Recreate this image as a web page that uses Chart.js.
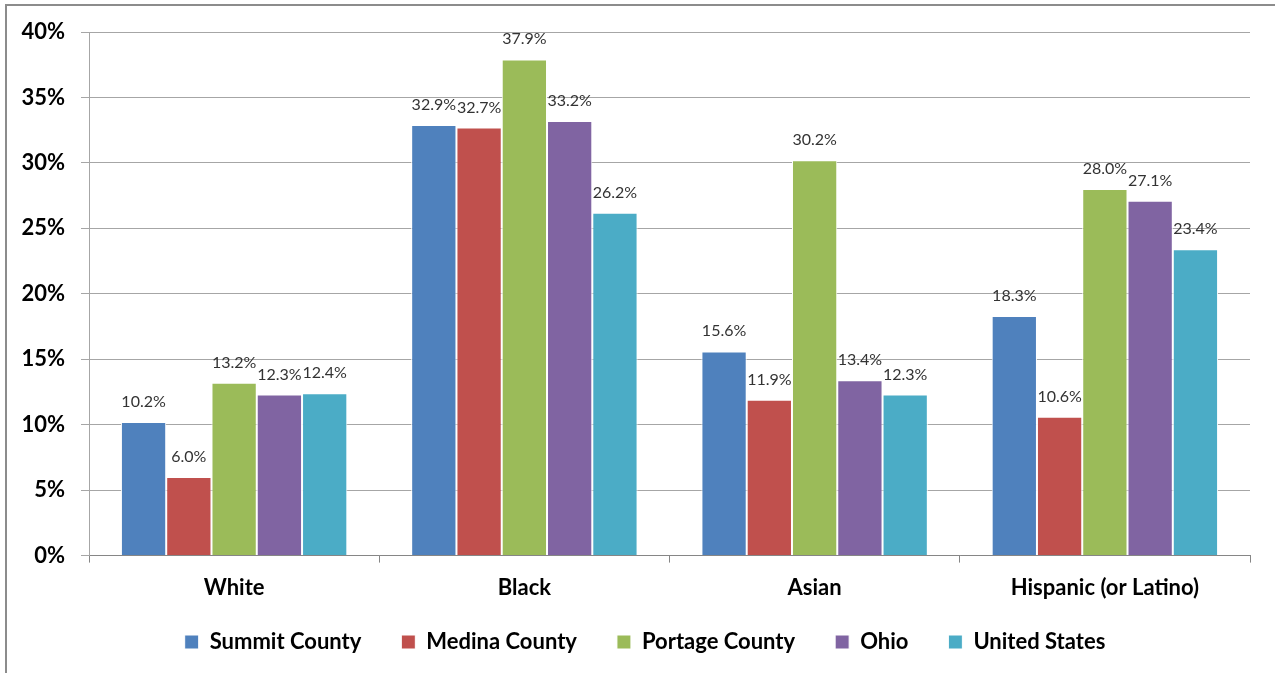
<!DOCTYPE html>
<html>
<head>
<meta charset="utf-8">
<script src="https://cdn.jsdelivr.net/npm/chart.js@4"></script>
<style>
  body { margin: 0; background: #fff; }
  #frame { position: absolute; left: 5px; top: 4px; width: 1300px; height: 700px; border: 2px solid #8c8c8c; }
  #wrap { position: absolute; left: 0; top: 0; width: 1275px; height: 673px; }
</style>
</head>
<body>
<div id="frame"></div>
<div id="wrap"><canvas id="myChart"></canvas></div>
<script>
const categorias = ['White', 'Black', 'Asian', 'Hispanic (or Latino)']
const nombres = ['Summit County', 'Medina County', 'Portage County', 'Ohio', 'United States']
const summit = [10.2, 32.9, 15.6, 18.3]
const medina = [6.0, 32.7, 11.9, 10.6]
const portage = [13.2, 37.9, 30.2, 28.0]
const ohio = [12.3, 33.2, 13.4, 27.1]
const usa = [12.4, 26.2, 12.3, 23.4]
const colores = ['#4F81BD', '#C0504D', '#9BBB59', '#8064A2', '#4BACC6']
const fuente = 'Lato, "Open Sans", sans-serif'

// etiquetas de valor encima de cada barra
const etiquetas = {
    id: 'etiquetas',
    afterDatasetsDraw(chart) {
        const ctx = chart.ctx
        ctx.save()
        ctx.font = '16px ' + fuente
        ctx.fillStyle = '#333333'
        ctx.textAlign = 'center'
        ctx.textBaseline = 'alphabetic'
        chart.data.datasets.forEach((ds, i) => {
            chart.getDatasetMeta(i).data.forEach((bar, j) => {
                ctx.fillText(ds.data[j].toFixed(1) + '%', bar.x, bar.y - 15)
            })
        })
        ctx.restore()
    }
}

// leyenda: alto fijo para el layout, luego ubicada a mano
const ajusteLeyenda = {
    id: 'ajusteLeyenda',
    afterInit(chart) {
        const leyenda = chart.legend
        const fit = leyenda.fit
        leyenda.fit = function () {
            fit.call(this)
            this.height = 60
        }
    },
    afterLayout(chart) {
        const l = chart.legend
        l.top = 591
        l.height = 80
        l.bottom = l.top + l.height
        l.left += 20
        l.right += 20
    }
}

const series = [summit, medina, portage, ohio, usa]
const ctx = document.getElementById('myChart')
new Chart(ctx, {
    type: 'bar',
    data: {
        labels: categorias,
        datasets: series.map((d, i) => ({
            label: nombres[i],
            data: d,
            backgroundColor: colores[i],
            borderColor: '#ffffff',
            borderWidth: 1
        }))
    },
    options: {
        responsive: true,
        maintainAspectRatio: false,
        animation: false,
        datasets: { bar: { categoryPercentage: 0.78, barPercentage: 1 } },
        layout: { padding: { top: 32, right: 25, left: 0, bottom: 0 } },
        plugins: {
            tooltip: { enabled: false },
            legend: {
                position: 'bottom',
                labels: {
                    boxWidth: 14,
                    boxHeight: 14,
                    padding: 40,
                    color: '#000',
                    font: { family: fuente, size: 22, weight: 'bold' }
                }
            }
        },
        scales: {
            x: {
                grid: { drawOnChartArea: false, drawTicks: true, tickLength: 7, color: '#868686' },
                border: { color: '#868686' },
                ticks: { color: '#000', padding: 12, font: { family: fuente, size: 22, weight: 'bold' } }
            },
            y: {
                min: 0,
                max: 40,
                afterFit(scale) { scale.width = 89 },
                grid: { color: '#a6a6a6', tickLength: 8 },
                border: { color: '#a6a6a6' },
                ticks: {
                    stepSize: 5,
                    padding: 16,
                    color: '#000',
                    font: { family: fuente, size: 22, weight: 'bold' },
                    callback: v => v + '%'
                }
            }
        }
    },
    plugins: [etiquetas, ajusteLeyenda]
});
</script>
</body>
</html>
